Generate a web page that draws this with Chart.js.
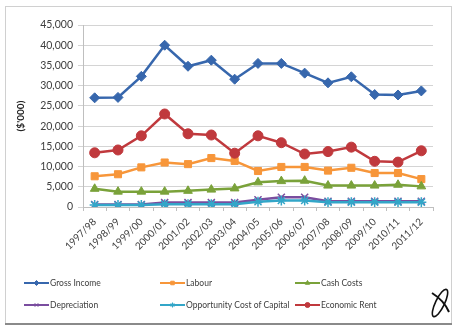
<!DOCTYPE html>
<html>
<head>
<meta charset="utf-8">
<script src="https://cdn.jsdelivr.net/npm/chart.js@4/dist/chart.umd.min.js"></script>
<style>
  html, body { margin: 0; padding: 0; background: #fff; }
  #wrap { position: relative; width: 454px; height: 325px; }
</style>
</head>
<body>
<div id="wrap"><canvas id="chart" width="454" height="325"></canvas></div>
<script>
const years = ['1997/98', '1998/99', '1999/00', '2000/01', '2001/02', '2002/03', '2003/04', '2004/05',
  '2005/06', '2006/07', '2007/08', '2008/09', '2009/10', '2010/11', '2011/12'];

const grossIncome = [27000, 27100, 32300, 40000, 34800, 36300, 31600, 35500, 35500, 33100, 30700, 32200, 27800, 27700, 28700];
const labour = [7600, 8100, 9800, 11000, 10600, 12100, 11400, 8900, 9900, 9900, 9000, 9700, 8400, 8400, 6900];
const cashCosts = [4500, 3800, 3800, 3800, 4000, 4300, 4600, 6100, 6400, 6500, 5300, 5300, 5300, 5500, 5100];
const depreciation = [600, 600, 600, 1100, 1100, 1100, 1100, 1800, 2400, 2400, 1400, 1400, 1400, 1400, 1400];
const oppCost = [500, 500, 500, 700, 700, 700, 700, 1300, 1600, 1600, 1200, 1200, 1200, 1200, 1200];
const economicRent = [13400, 14100, 17600, 23000, 18100, 17800, 13300, 17600, 15900, 13100, 13700, 14800, 11300, 11100, 13900];

const yTicks = [0, 5000, 10000, 15000, 20000, 25000, 30000, 35000, 40000, 45000];

const series = [
  { label: 'Gross Income', data: grossIncome, color: '#3767ad', point: 'rectRot', r: 5 },
  { label: 'Labour', data: labour, color: '#f7963a', point: 'rect', r: 5 },
  { label: 'Cash Costs', data: cashCosts, color: '#7aa23a', point: 'triangle', r: 5 },
  { label: 'Depreciation', data: depreciation, color: '#7a4d9f', point: 'crossRot', r: 5 },
  { label: 'Opportunity Cost of Capital', data: oppCost, color: '#33a6c8', point: 'star', r: 5 },
  { label: 'Economic Rent', data: economicRent, color: '#c0393d', point: 'circle', r: 5 }
];

const FONT = 'Lato, "Open Sans", sans-serif';

// frame, legend and little logo
const decorPlugin = {
  id: 'decor',
  beforeDraw(chart) {
    const c = chart.ctx;
    c.save();
    c.fillStyle = '#fff';
    c.fillRect(0, 0, chart.width, chart.height);
    c.strokeStyle = '#d0d0d0';
    c.lineWidth = 1;
    c.strokeRect(5.5, 6.5, 446, 317);
    c.strokeStyle = '#8a8a8a';
    c.lineWidth = 2;
    c.beginPath();
    c.moveTo(5, 324);
    c.lineTo(452, 324);
    c.stroke();
    c.restore();
  },
  afterDraw(chart) {
    const c = chart.ctx;
    const cols = [24, 160, 295];
    const rows = [283, 305];
    c.save();
    chart.data.datasets.forEach((ds, i) => {
      const x = cols[i % 3];
      const y = rows[Math.floor(i / 3)];
      c.strokeStyle = ds.borderColor;
      c.lineWidth = 2;
      c.beginPath();
      c.moveTo(x, y);
      c.lineTo(x + 25, y);
      c.stroke();
      if (Chart.helpers && Chart.helpers.drawPoint) {
        c.fillStyle = ds.pointBackgroundColor;
        c.strokeStyle = ds.pointBorderColor;
        c.lineWidth = 1;
        Chart.helpers.drawPoint(c, { pointStyle: ds.pointStyle, radius: 2.5, rotation: 0, borderWidth: 1 }, x + 12.5, y);
      }
      c.fillStyle = '#404040';
      c.font = '8.5px ' + FONT;
      c.textBaseline = 'middle';
      c.textAlign = 'left';
      c.fillText(ds.label, x + 26, y);
    });

    // logo
    c.strokeStyle = '#111';
    c.lineWidth = 1.6;
    c.beginPath();
    c.ellipse(440, 303, 4.5, 15, 0.45, 0, Math.PI * 2);
    c.stroke();
    c.lineWidth = 2;
    c.beginPath();
    c.moveTo(432, 293);
    c.bezierCurveTo(440, 298, 446, 305, 449, 312);
    c.stroke();
    c.restore();
  }
};

new Chart(document.getElementById('chart'), {
  type: 'line',
  data: {
    labels: years,
    datasets: series.map((s, i) => ({
      label: s.label,
      data: s.data,
      borderColor: s.color,
      backgroundColor: s.color,
      pointBackgroundColor: s.color,
      pointBorderColor: s.color,
      pointStyle: s.point,
      pointRadius: s.r,
      pointBorderWidth: (s.point === 'crossRot' || s.point === 'star') ? 1.5 : 1,
      borderWidth: 2.5,
      tension: 0,
      order: 5 - i
    }))
  },
  options: {
    responsive: false,
    animation: false,
    devicePixelRatio: 1,
    layout: { padding: { left: 0, right: 21, top: 25, bottom: 0 } },
    plugins: {
      legend: { display: false },
      tooltip: { enabled: false }
    },
    scales: {
      x: {
        offset: true,
        afterFit(scale) { scale.height = 118; },
        grid: { display: true, drawOnChartArea: false, offset: true, tickLength: 4, color: '#bfbfbf' },
        border: { color: '#bfbfbf' },
        ticks: {
          minRotation: 45,
          maxRotation: 45,
          autoSkip: false,
          padding: 5,
          color: '#404040',
          font: { family: FONT, size: 10 }
        }
      },
      y: {
        min: 0,
        max: 45000,
        afterFit(scale) { scale.width = 83; },
        afterBuildTicks(scale) { scale.ticks = yTicks.map(v => ({ value: v })); },
        grid: { color: '#d4d4d4', tickLength: 5, lineWidth: 1 },
        border: { color: '#bfbfbf' },
        ticks: {
          padding: 5,
          color: '#404040',
          font: { family: FONT, size: 10.5 },
          callback: v => v.toLocaleString('en-US')
        },
        title: {
          display: true,
          text: "($'000)",
          color: '#262626',
          font: { family: FONT, size: 10, weight: 'bold' },
          padding: { top: 15, bottom: 0 }
        }
      }
    }
  },
  plugins: [decorPlugin]
});
</script>
</body>
</html>
